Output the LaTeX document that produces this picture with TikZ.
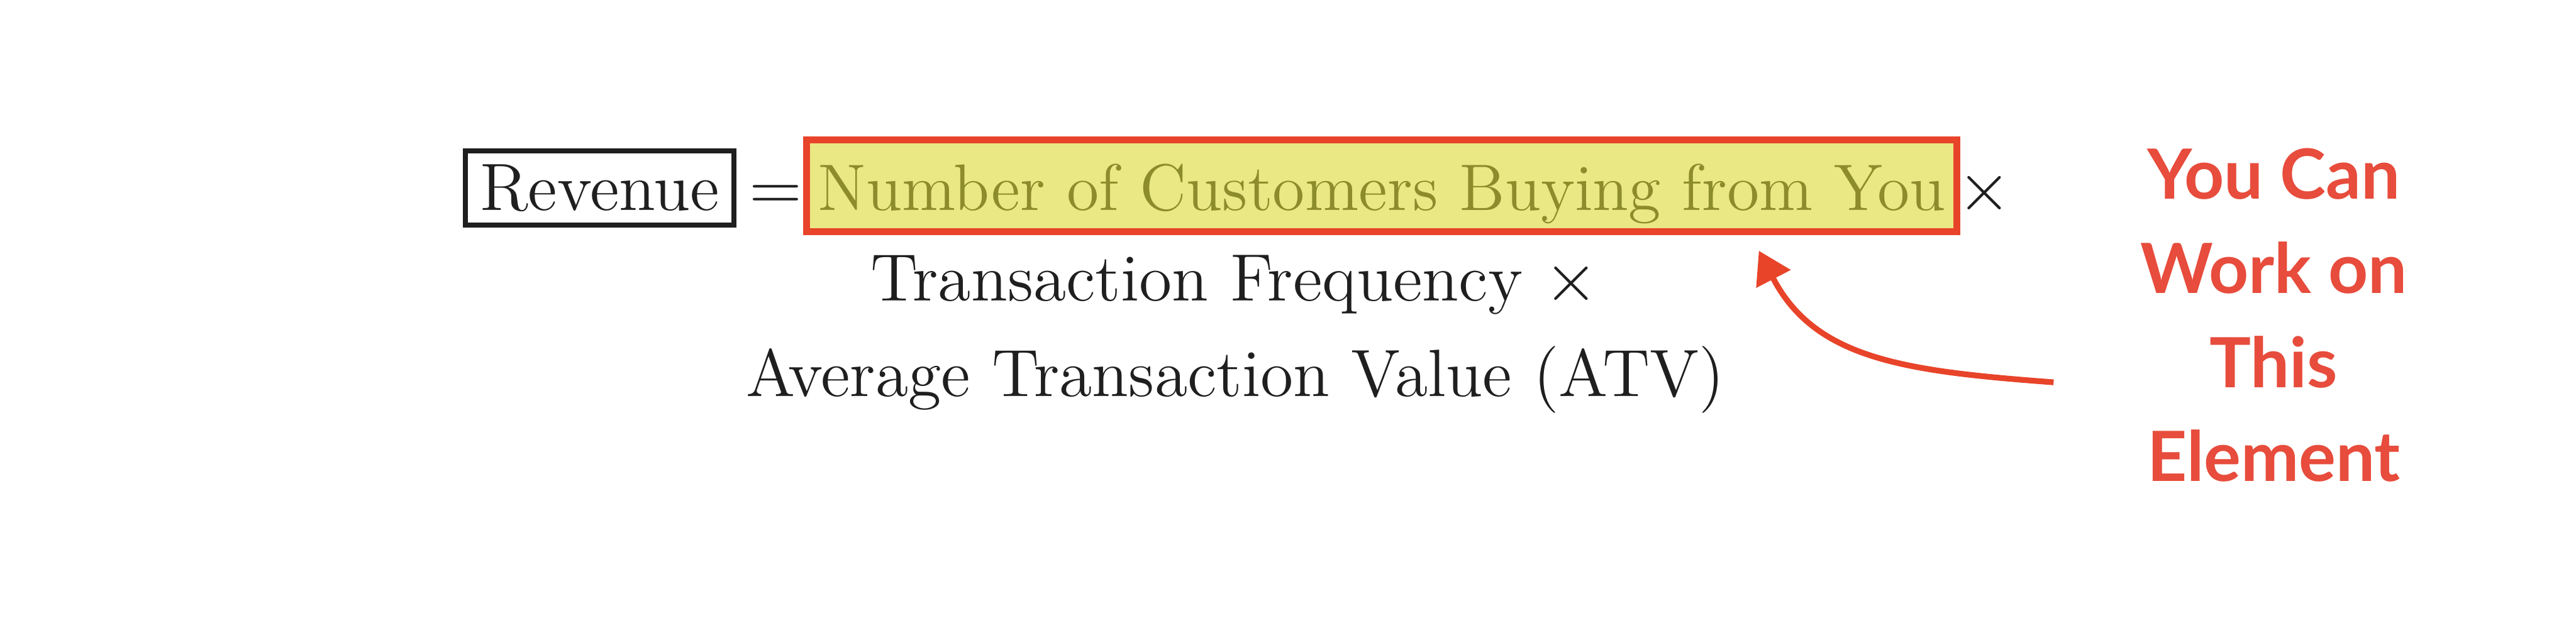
\documentclass[tikz,border=0pt]{standalone}
\usepackage{fontspec}
\newfontfamily\notefont{Lato}
\usetikzlibrary{arrows.meta}
\definecolor{notered}{RGB}{231,76,60}
\definecolor{markred}{RGB}{232,68,42}
\definecolor{markfill}{RGB}{234,232,132}
\definecolor{marktext}{RGB}{140,140,45}
\begin{document}
\begin{tikzpicture}[
  eqtext/.style={font=\fontsize{11.6}{14}\selectfont, inner sep=0pt, text=black!88},
  revbox/.style={eqtext, draw=black!88, line width=0.9pt, inner xsep=2.5pt,
    text height=0.36cm, text depth=0.09cm},
  markbox/.style={eqtext, font=\fontsize{11.4}{14}\selectfont, draw=markred,
    fill=markfill, text=marktext, line width=1.2pt, inner xsep=2pt,
    text height=0.43cm, text depth=0.13cm},
  note/.style={font=\notefont\bfseries\fontsize{12}{16.3}\selectfont,
    text=notered, align=center, inner sep=0pt}
]
\useasboundingbox (0,0) rectangle (15.68,3.76);
% first line of the formula
\node[revbox, anchor=base] (rev) at (3.65,2.48) {Revenue};
\node[eqtext, anchor=base] (eq) at (4.72,2.48) {$=$};
\node[markbox, anchor=base] (cust) at (8.41,2.48) {Number of Customers Buying from You};
\node[eqtext, anchor=base] (times) at (12.08,2.48) {$\times$};
% second and third line
\node[eqtext, anchor=base] (freq) at (7.515,1.93) {Transaction Frequency $\times$};
\node[eqtext, anchor=base] (atv) at (7.52,1.345) {Average Transaction Value (ATV)};
% note on the right
\node[note] (hint) at (13.84,1.84) {You Can\\Work on\\This\\Element};
% arrow from the note up to the marked element
\coordinate (tail) at (12.50,1.432);
\coordinate (tip) at (10.706,2.233);
\draw[markred, line width=1pt, -{Triangle[length=5.5pt,width=6.5pt]}]
  (tail) .. controls (11.60,1.50) and (11.05,1.57) .. (tip);
\end{tikzpicture}
\end{document}
